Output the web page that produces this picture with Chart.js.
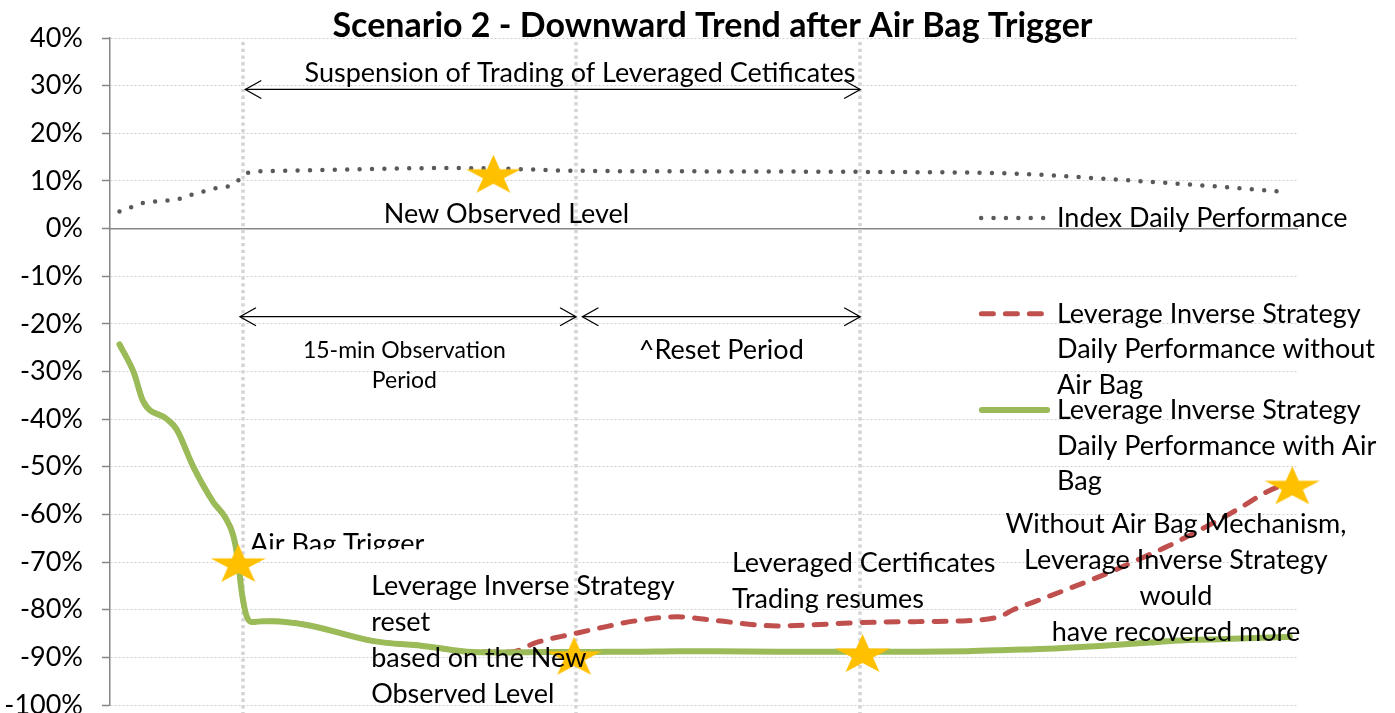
<!DOCTYPE html>
<html>
<head>
<meta charset="utf-8">
<script src="https://cdn.jsdelivr.net/npm/chart.js@4.4.1/dist/chart.umd.min.js"></script>
<style>
  html, body { margin: 0; padding: 0; background: #fff; }
</style>
</head>
<body>
<canvas id="scenarioChart" width="1395" height="713"></canvas>
<script>
// time runs 0..100 across the plot, values are daily performance in %
const timeSteps = [0.8, 2.0, 2.8, 4.8, 5.6, 7.0, 8.7, 9.7, 10.4, 10.8, 11.1, 11.5, 12.0, 12.9, 13.7, 16.6, 22.2, 26.4, 30.6, 33.7,
    36.0, 39.0, 41.9, 44.1, 47.8, 51.1, 56.2, 63.2, 68.0, 72.2, 75.0, 76.1, 77.8, 83.4, 87.6, 89.1, 91.8, 94.6, 98.3, 99.4];
const strategyWithAirBag = [-24.3, -30.2, -36.3, -40.0, -42.1, -49.9, -57.4, -60.6, -64.6, -70.0, -76.3, -81.3, -82.6, -82.4, -82.4, -83.2, -86.6, -87.6, -88.9, -89.0,
    -88.9, -88.9, -88.8, -88.8, -88.7, -88.7, -88.8, -88.8, -88.8, -88.7, -88.5, -88.4, -88.3, -87.6, -86.9, -86.6, -86.3, -86.1, -85.8, -85.7];
const strategyWithoutAirBag = [-24.3, -30.2, -36.3, -40.0, -42.1, -49.9, -57.4, -60.6, -64.6, -70.0, -76.3, -81.3, -82.6, -82.4, -82.4, -83.2, -86.6, -87.6, -88.9, -88.9,
    -86.8, -85.1, -83.5, -82.4, -81.5, -82.3, -83.4, -82.7, -82.5, -82.3, -81.4, -80.0, -78.4, -73.0, -68.4, -66.7, -63.3, -59.5, -54.3, -53.7];
const indexTimes = [0.8, 1.9, 2.8, 4.9, 5.9, 6.9, 7.9, 8.8, 9.9, 10.8, 11.6, 12.6, 16.0, 24.0, 28.6, 32.9, 37.9, 49.7, 63.2, 76.7, 83.4, 91.8, 98.4];
const indexPerformance = [3.6, 4.6, 5.4, 5.9, 6.3, 7.1, 7.8, 8.4, 8.8, 10.1, 11.7, 12.0, 12.2, 12.6, 12.7, 12.6, 12.2, 12.0, 11.9, 11.5, 10.5, 9.1, 7.8];
const starTimes = [10.8, 32.3, 39.1, 63.4, 99.6];
const starLevels = [-70.6, 11.1, -90.1, -89.5, -54.3];
const eventTimes = [11.2, 39.26, 63.18];

const FONT = 'Lato';
const TEXT_SIZE = 27;

// annotations in data units (t, value), value is the first text baseline
const arrows = [
    { from: 11.4, to: 63.2, v: 29.2 },
    { from: 10.95, to: 39.26, v: -18.5 },
    { from: 39.8, to: 63.2, v: -18.5 }
];
const notes = [
    { lines: ['Suspension of Trading of Leveraged Cetificates'], t: 39.6, v: 30.8, align: 'center' },
    { lines: ['New Observed Level'], t: 33.4, v: 1.2, align: 'center' },
    { lines: ['15-min Observation', 'Period'], t: 24.8, v: -27.2, align: 'center', size: 23, lh: 30 },
    { lines: ['^Reset Period'], t: 51.5, v: -27.4, align: 'center' },
    { lines: ['Air Bag Trigger'], t: 11.8, v: -68.1, align: 'left', clipAt: -67.3 },
    { lines: ['Leverage Inverse Strategy', 'reset', 'based on the New', 'Observed Level'], t: 22.0, v: -76.9, align: 'left' },
    { lines: ['Leveraged Certificates', 'Trading resumes'], t: 52.4, v: -72.1, align: 'left' },
    { lines: ['Without Air Bag Mechanism,', 'Leverage Inverse Strategy', 'would', 'have recovered more'], t: 89.8, v: -63.9, align: 'center' }
];
const legendRows = [
    { label: 'Index Daily Performance', lines: ['Index Daily Performance'], v: 2.2 },
    { label: 'Leverage Inverse Strategy Daily Performance without Air Bag', lines: ['Leverage Inverse Strategy', 'Daily Performance without', 'Air Bag'], v: -17.9 },
    { label: 'Leverage Inverse Strategy Daily Performance with Air Bag', lines: ['Leverage Inverse Strategy', 'Daily Performance with Air', 'Bag'], v: -38.1 }
];

// filled five point star, a bit wider than tall like the one in the sheet
function make_star_image(w, h, color) {
    const c = document.createElement('canvas');
    c.width = w; c.height = h;
    const g = c.getContext('2d');
    const R = h / 2;
    const sx = (w / 2) / (R * Math.sin(2 * Math.PI / 5));
    g.fillStyle = color;
    g.beginPath();
    for (let i = 0; i < 10; i++) {
        const a = -Math.PI / 2 + i * Math.PI / 5;
        const r = i % 2 === 0 ? R : R * 0.382;
        const px = w / 2 + sx * r * Math.cos(a);
        const py = h / 2 + r * Math.sin(a);
        if (i === 0) g.moveTo(px, py); else g.lineTo(px, py);
    }
    g.closePath();
    g.fill();
    return c;
}

function to_points(xs, ys) {
    return xs.map((x, i) => ({ x: x, y: ys[i] }));
}

function draw_arrow_head(ctx, x, y, dir) {
    ctx.beginPath();
    ctx.moveTo(x - dir * 16, y - 9);
    ctx.lineTo(x, y);
    ctx.lineTo(x - dir * 16, y + 9);
    ctx.stroke();
}

const annotationPlugin = {
    id: 'scenarioAnnotations',
    beforeDatasetsDraw(chart) {
        const { ctx, scales: { x, y } } = chart;
        ctx.save();
        // event markers
        ctx.strokeStyle = '#D4D4D4';
        ctx.lineWidth = 3.5;
        ctx.setLineDash([3.3, 3.4]);
        eventTimes.forEach(t => {
            const px = Math.round(x.getPixelForValue(t));
            ctx.beginPath();
            ctx.moveTo(px, chart.chartArea.top + 4);
            ctx.lineTo(px, chart.height);
            ctx.stroke();
        });
        // period arrows
        ctx.setLineDash([]);
        ctx.strokeStyle = '#000';
        ctx.lineWidth = 1.3;
        arrows.forEach(a => {
            const x1 = x.getPixelForValue(a.from), x2 = x.getPixelForValue(a.to);
            const py = y.getPixelForValue(a.v);
            ctx.beginPath();
            ctx.moveTo(x1, py);
            ctx.lineTo(x2, py);
            ctx.stroke();
            draw_arrow_head(ctx, x1, py, -1);
            draw_arrow_head(ctx, x2, py, 1);
        });
        ctx.restore();
    },
    afterDatasetsDraw(chart) {
        const { ctx, scales: { x, y }, chartArea } = chart;
        ctx.save();
        ctx.fillStyle = '#000';
        ctx.textBaseline = 'alphabetic';
        notes.forEach(n => {
            ctx.save();
            ctx.font = (n.size || TEXT_SIZE) + 'px ' + FONT;
            ctx.textAlign = n.align;
            if (n.clipAt !== undefined) {
                ctx.beginPath();
                ctx.rect(0, 0, chart.width, y.getPixelForValue(n.clipAt));
                ctx.clip();
            }
            const px = x.getPixelForValue(n.t);
            let py = y.getPixelForValue(n.v);
            n.lines.forEach(line => {
                ctx.fillText(line, px, py);
                py += n.lh || 36;
            });
            ctx.restore();
        });

        // legend drawn over the plot like in the sheet
        const symLeft = x.getPixelForValue(73.2);
        const symRight = x.getPixelForValue(79.2);
        const textLeft = x.getPixelForValue(79.78);
        legendRows.forEach(row => {
            const ds = chart.data.datasets.find(d => d.label === row.label);
            const sy = y.getPixelForValue(row.v);
            ctx.save();
            ctx.strokeStyle = ds.borderColor;
            ctx.lineWidth = ds.borderWidth;
            ctx.lineCap = ds.borderCapStyle || 'butt';
            ctx.setLineDash(ds.borderDash || []);
            const inset = ds.borderWidth / 2;
            ctx.beginPath();
            ctx.moveTo(symLeft + inset, sy);
            ctx.lineTo(symRight - inset, sy);
            ctx.stroke();
            ctx.restore();
            ctx.font = TEXT_SIZE + 'px ' + FONT;
            ctx.textAlign = 'left';
            let py = sy + 9;
            row.lines.forEach(line => {
                ctx.fillText(line, textLeft, py);
                py += 35.5;
            });
        });

        // chart title
        ctx.font = 'bold 34px ' + FONT;
        ctx.textAlign = 'center';
        ctx.fillText('Scenario 2 - Downward Trend after Air Bag Trigger', (chartArea.left + chartArea.right) / 2 + 9, chartArea.top - 1);
        ctx.restore();
    }
};

const starImage = make_star_image(55, 42, '#FFC000');

new Chart(document.getElementById('scenarioChart'), {
    type: 'line',
    data: {
        datasets: [
            {
                label: 'Stars',
                data: to_points(starTimes, starLevels),
                showLine: false,
                pointStyle: starImage,
                // image markers ignore the radius, keep it small so no layout room is reserved
                pointRadius: 1,
                clip: false,
                order: 0
            },
            {
                label: 'Leverage Inverse Strategy Daily Performance with Air Bag',
                data: to_points(timeSteps, strategyWithAirBag),
                borderColor: '#9BBB59',
                borderWidth: 6,
                borderCapStyle: 'round',
                borderJoinStyle: 'round',
                pointRadius: 0,
                cubicInterpolationMode: 'monotone',
                order: 1
            },
            {
                label: 'Leverage Inverse Strategy Daily Performance without Air Bag',
                data: to_points(timeSteps, strategyWithoutAirBag),
                borderColor: '#C0504D',
                borderWidth: 5,
                borderDash: [12, 12],
                borderCapStyle: 'round',
                pointRadius: 0,
                cubicInterpolationMode: 'monotone',
                order: 2
            },
            {
                label: 'Index Daily Performance',
                data: to_points(indexTimes, indexPerformance),
                borderColor: '#595959',
                borderWidth: 4.5,
                borderDash: [0, 12.4],
                borderCapStyle: 'round',
                pointRadius: 0,
                cubicInterpolationMode: 'monotone',
                order: 3
            }
        ]
    },
    options: {
        responsive: false,
        animation: false,
        devicePixelRatio: 1,
        layout: { padding: { left: 0, right: 98, top: 38, bottom: 8 } },
        plugins: {
            legend: { display: false },
            tooltip: { enabled: false },
            title: { display: false }
        },
        scales: {
            x: {
                type: 'linear',
                min: 0,
                max: 100,
                position: { y: 0 },
                ticks: { display: false },
                grid: { display: false, drawTicks: false },
                border: { color: '#868686', width: 1.5 },
                afterFit: scale => { scale.height = 0; }
            },
            y: {
                min: -100,
                max: 40,
                ticks: {
                    stepSize: 10,
                    padding: 19,
                    color: '#000',
                    font: { family: FONT, size: TEXT_SIZE },
                    callback: v => v + '%'
                },
                grid: { color: '#D0D0D0', lineWidth: 1, tickLength: 8, tickColor: '#868686', tickWidth: 1.5 },
                border: { color: '#868686', width: 1.5, dash: [2, 2] },
                afterFit: scale => {
                    scale.width = 110;
                    // the -100% label may hang below the plot, don't reserve room for it
                    scale.paddingTop = 0;
                    scale.paddingBottom = 0;
                }
            }
        }
    },
    plugins: [annotationPlugin]
});
</script>
</body>
</html>
